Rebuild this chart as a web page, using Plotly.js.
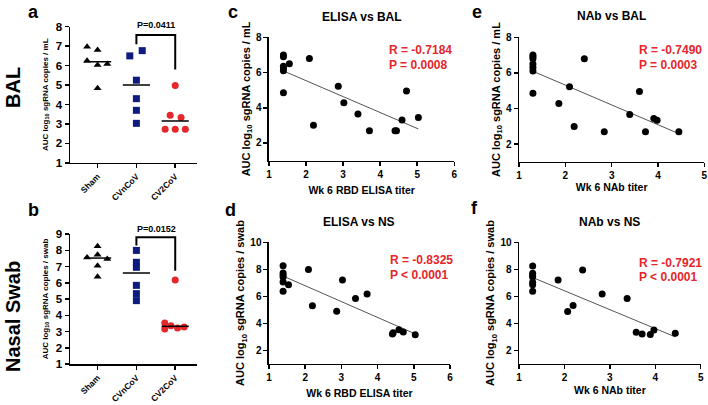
<!DOCTYPE html>
<html>
<head>
<meta charset="utf-8">
<script src="https://cdn.plot.ly/plotly-3.0.1.min.js"></script>
<style>html,body{margin:0;padding:0;background:#fff;}</style>
</head>
<body>
<div id="fig" style="width:708px;height:405px;"></div>
<script>
var groups = ['Sham', 'CVnCoV', 'CV2CoV'];

// a: BAL, AUC log10 sgRNA per group
var balSham = [6.97, 6.8, 6.25, 6.03, 6.08, 4.83];
var balCVn = [6.5, 6.77, 5.25, 4.3, 3.7, 3.03];
var balCV2 = [4.98, 3.45, 3.33, 2.73, 2.73, 2.73];
var balLines = [6.2, 5.0, 3.15];
var balP = 'P=0.0411';

// b: nasal swab
var nsSham = [8.24, 7.56, 7.73, 7.46, 7.05, 6.37];
var nsCVn = [7.99, 7.26, 6.95, 5.84, 5.33, 4.9];
var nsCV2 = [6.17, 3.52, 3.15, 3.36, 3.21, 3.28];
var nsLines = [7.52, 6.6, 3.32];
var nsP = 'P=0.0152';

// dot-plot jitter (category units)
var jitBalSham = [-0.27, 0, -0.27, 0, 0.25, 0];
var jitBalCVn = [-0.17, 0.15, 0, 0, 0, 0];
var jitBalCV2 = [0, -0.13, 0.15, -0.26, 0, 0.26];
var jitNsSham = [0, -0.27, 0, 0.25, 0, 0];
var jitNsCVn = [0, 0, 0, 0, 0, 0];
var jitNsCV2 = [0, -0.27, -0.27, -0.11, 0.06, 0.23];

// c-f: correlations
var elisaBalX = [1.39, 1.39, 1.39, 1.39, 1.39, 1.39, 1.55, 2.09, 2.2, 2.87, 3.02, 3.4, 3.71, 4.4, 4.44, 4.59, 4.71, 5.03];
var elisaBalY = [7.0, 6.9, 6.35, 6.25, 6.1, 4.85, 6.5, 6.8, 3.0, 5.22, 4.28, 3.65, 2.7, 2.7, 2.7, 3.3, 4.95, 3.45];
var elisaNsX = [1.39, 1.39, 1.39, 1.39, 1.39, 1.39, 1.54, 2.09, 2.2, 2.87, 3.03, 3.39, 3.71, 4.41, 4.43, 4.59, 4.71, 5.04];
var elisaNsY = [8.27, 7.73, 7.58, 7.43, 7.06, 6.37, 6.86, 7.98, 5.31, 4.89, 7.21, 5.83, 6.17, 3.21, 3.31, 3.53, 3.36, 3.16];
var nabBalX = [1.3, 1.3, 1.3, 1.3, 1.3, 1.3, 1.3, 1.86, 2.09, 2.19, 2.41, 2.84, 3.39, 3.6, 3.73, 3.91, 3.98, 4.45];
var nabBalY = [7.0, 6.9, 6.8, 6.5, 6.3, 6.1, 4.85, 4.28, 5.22, 2.99, 6.8, 2.69, 3.66, 4.95, 2.69, 3.44, 3.33, 2.69];
var nabNsX = [1.3, 1.3, 1.3, 1.3, 1.3, 1.3, 1.3, 1.86, 2.07, 2.19, 2.4, 2.83, 3.38, 3.58, 3.71, 3.89, 3.97, 4.44];
var nabNsY = [8.25, 7.7, 7.55, 7.43, 7.04, 6.85, 6.37, 7.21, 4.87, 5.32, 7.95, 6.17, 5.83, 3.33, 3.21, 3.18, 3.5, 3.26];

var corrTitles = ['ELISA vs BAL', 'ELISA vs NS', 'NAb vs BAL', 'NAb vs NS'];
var corrR = ['R = -0.7184', 'R = -0.8325', 'R = -0.7490', 'R = -0.7921'];
var corrP = ['P = 0.0008', 'P < 0.0001', 'P = 0.0003', 'P < 0.0001'];

var FONT = 'Liberation Sans, Arial, sans-serif';
var RED = '#e5262b';
var NAVY = '#0d1a80';

function bold(size, color) {
  return {family: FONT, size: size, color: color || '#000', weight: 'bold'};
}

function fitLine(xs, ys) {
  var n = xs.length, mx = 0, my = 0;
  for (var i = 0; i < n; i++) { mx += xs[i] / n; my += ys[i] / n; }
  var sxy = 0, sxx = 0;
  for (var i = 0; i < n; i++) { sxy += (xs[i] - mx) * (ys[i] - my); sxx += (xs[i] - mx) * (xs[i] - mx); }
  var b = sxy / sxx;
  var x0 = Math.min.apply(null, xs), x1 = Math.max.apply(null, xs);
  return {x: [x0, x1], y: [my + b * (x0 - mx), my + b * (x1 - mx)]};
}

var data = [];

function dotPanel(xa, ya, sets, jits, lines) {
  var syms = ['triangle-up', 'square', 'circle'];
  var cols = ['#000', NAVY, RED];
  for (var g = 0; g < 3; g++) {
    data.push({
      x: jits[g].map(function (j) { return g + j; }),
      y: sets[g], xaxis: xa, yaxis: ya, mode: 'markers', type: 'scatter',
      marker: {symbol: syms[g], color: cols[g], size: 7}, cliponaxis: false
    });
    data.push({
      x: [g - 0.35, g + 0.35], y: [lines[g], lines[g]], xaxis: xa, yaxis: ya,
      mode: 'lines', line: {color: '#000', width: 1.5}, cliponaxis: false
    });
  }
}

// bracket between CVnCoV and CV2CoV
function bracket(xa, ya, yl, ytop, yr) {
  data.push({
    x: [1, 1, 2, 2], y: [yl, ytop, ytop, yr], xaxis: xa, yaxis: ya,
    mode: 'lines', line: {color: '#000', width: 2}, cliponaxis: false
  });
}

dotPanel('x', 'y', [balSham, balCVn, balCV2], [jitBalSham, jitBalCVn, jitBalCV2], balLines);
bracket('x', 'y', 7.1, 7.57, 5.8);
dotPanel('x2', 'y2', [nsSham, nsCVn, nsCV2], [jitNsSham, jitNsCVn, jitNsCV2], nsLines);
bracket('x2', 'y2', 8.3, 8.8, 6.74);

var corr = [[elisaBalX, elisaBalY], [elisaNsX, elisaNsY], [nabBalX, nabBalY], [nabNsX, nabNsY]];
for (var k = 0; k < 4; k++) {
  var xa = 'x' + (k + 3), ya = 'y' + (k + 3);
  var fit = fitLine(corr[k][0], corr[k][1]);
  data.push({x: fit.x, y: fit.y, xaxis: xa, yaxis: ya, mode: 'lines',
    line: {color: '#555', width: 1}});
  data.push({x: corr[k][0], y: corr[k][1], xaxis: xa, yaxis: ya, mode: 'markers',
    marker: {color: '#000', size: 7}, cliponaxis: false});
}

function axis(o) {
  var a = {
    showline: true, linecolor: '#000', linewidth: 1.5, ticks: 'outside', ticklen: 4,
    tickwidth: 1.5, tickcolor: '#000', showgrid: false, zeroline: false,
    fixedrange: true, tickfont: bold(10)
  };
  for (var key in o) a[key] = o[key];
  return a;
}

var ytitleBal = 'AUC log<sub>10</sub> sgRNA copies / mL';
var ytitleNs = 'AUC log<sub>10</sub> sgRNA copies / swab';

var layout = {
  width: 708, height: 405,
  margin: {l: 0, r: 0, t: 0, b: 0},
  paper_bgcolor: '#fff', plot_bgcolor: '#fff',
  showlegend: false,
  font: {family: FONT, color: '#000'},
  xaxis: axis({domain: [0.0989, 0.2782], range: [-0.71, 2.56], tickvals: [0, 1, 2], ticktext: groups,
    tickangle: -45, anchor: 'y', tickfont: bold(8.5)}),
  yaxis: axis({domain: [0.598, 0.934], range: [1, 8], dtick: 1, anchor: 'x', tickfont: bold(11.5),
    title: {text: ytitleBal, font: bold(8), standoff: 6}}),
  xaxis2: axis({domain: [0.0989, 0.2782], range: [-0.71, 2.56], tickvals: [0, 1, 2], ticktext: groups,
    tickangle: -45, anchor: 'y2', tickfont: bold(8.5)}),
  yaxis2: axis({domain: [0.1012, 0.4222], range: [1, 9], dtick: 1, anchor: 'x2', tickfont: bold(11.5),
    title: {text: ytitleNs, font: bold(8), standoff: 6}}),
  xaxis3: axis({domain: [0.3799, 0.6417], range: [1, 6], dtick: 1, anchor: 'y3',
    title: {text: 'Wk 6 RBD ELISA titer', font: bold(10.5), standoff: 7}}),
  yaxis3: axis({domain: [0.6035, 0.9079], range: [1, 8], tickvals: [2, 4, 6, 8], anchor: 'x3',
    title: {text: ytitleBal, font: bold(11), standoff: 3}}),
  xaxis4: axis({domain: [0.3799, 0.6356], range: [1, 6], dtick: 1, anchor: 'y4',
    title: {text: 'Wk 6 RBD ELISA titer', font: bold(10.5), standoff: 7}}),
  yaxis4: axis({domain: [0.1017, 0.4017], range: [1, 10], tickvals: [2, 4, 6, 8, 10], anchor: 'x4',
    title: {text: ytitleNs, font: bold(11), standoff: 3}}),
  xaxis5: axis({domain: [0.7331, 0.9948], range: [1, 5], dtick: 1, anchor: 'y5',
    title: {text: 'Wk 6 NAb titer', font: bold(10.5), standoff: 2}}),
  yaxis5: axis({domain: [0.6005, 0.9079], range: [1, 8], tickvals: [2, 4, 6, 8], anchor: 'x5',
    title: {text: ytitleBal, font: bold(11), standoff: 3}}),
  xaxis6: axis({domain: [0.7331, 0.9897], range: [1, 5], dtick: 1, anchor: 'y6',
    title: {text: 'Wk 6 NAb titer', font: bold(10.5), standoff: 4}}),
  yaxis6: axis({domain: [0.1017, 0.4017], range: [1, 10], tickvals: [2, 4, 6, 8, 10], anchor: 'x6',
    title: {text: ytitleNs, font: bold(11), standoff: 3}}),
  annotations: []
};

function note(text, x, y, opts) {
  var a = {text: text, x: x, y: y, xref: 'paper', yref: 'paper', showarrow: false,
    xanchor: 'center', yanchor: 'middle', font: bold(12)};
  for (var key in opts) a[key] = opts[key];
  layout.annotations.push(a);
}

// panel letters and row labels (pixel positions)
var letters = [['a', 33, 0, 'top'], ['b', 33, 210, 'middle'], ['c', 233, 0, 'top'],
  ['d', 230, 210, 'middle'], ['e', 477, 0, 'top'], ['f', 475, 208, 'middle']];
letters.forEach(function (l) {
  note(l[0], l[1] / 708, 1 - l[2] / 405, {font: bold(18), yanchor: l[3]});
});
note('BAL', 13 / 708, 1 - 88 / 405, {textangle: -90, font: bold(20)});
note('Nasal Swab', 13 / 708, 1 - 317 / 405, {textangle: -90, font: bold(20)});

// p-value labels over brackets
note(balP, 156 / 708, 1 - 25 / 405, {font: bold(9)});
note(nsP, 156 / 708, 1 - 229 / 405, {font: bold(9)});

// correlation titles and stats
var titleY = [17, 222, 16, 222];
var statX = [4.18, 4.28, 3.54, 3.59];
var statY = [[7.28, 6.43], [8.69, 7.58], [7.28, 6.43], [8.47, 7.43]];
for (var k = 0; k < 4; k++) {
  var n = k + 3;
  note(corrTitles[k], 0.5, 1 - titleY[k] / 405, {xref: 'x' + n + ' domain'});
  note(corrR[k], statX[k], statY[k][0], {xref: 'x' + n, yref: 'y' + n, xanchor: 'left', font: bold(12, RED)});
  note(corrP[k], statX[k], statY[k][1], {xref: 'x' + n, yref: 'y' + n, xanchor: 'left', font: bold(12, RED)});
}

Plotly.newPlot('fig', data, layout, {staticPlot: true});
</script>
</body>
</html>
